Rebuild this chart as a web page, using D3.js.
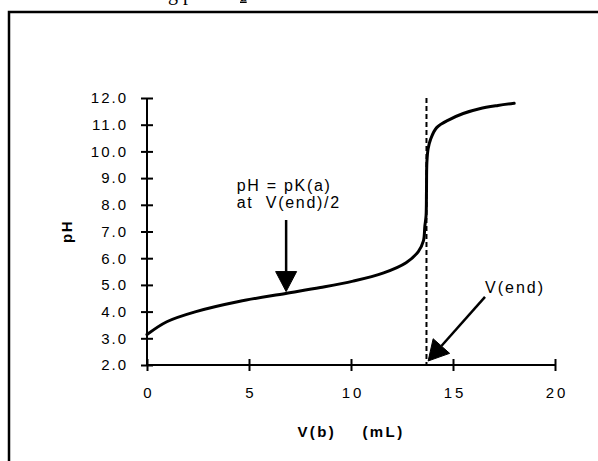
<!DOCTYPE html>
<html><head><meta charset="utf-8">
<script src="https://cdn.jsdelivr.net/npm/d3@7"></script>
<style>
html,body{margin:0;padding:0;background:#fff;}
svg{display:block;}
text{font-family:"Liberation Sans",Arial,Helvetica,sans-serif;fill:#000;}
</style></head>
<body>
<svg id="chart" width="598" height="461"></svg>
<script>
// ---- data ----
const volumeB = [0, 0.97, 2.4, 4.5, 6.8, 8.5, 10.1, 11.6, 12.7, 13.3, 13.55, 13.62, 13.68, 13.7, 13.72, 13.78, 13.9, 14.2, 14.85, 15.5, 16.3, 17.2, 18.0];
const pHValues = [3.14, 3.62, 4.0, 4.38, 4.68, 4.9, 5.14, 5.45, 5.83, 6.25, 6.65, 7.2, 7.6, 8.5, 9.6, 10.1, 10.45, 10.89, 11.2, 11.42, 11.6, 11.72, 11.8];
const xTicks = [0, 5, 10, 15, 20];
const xTickLabels = ["0", "5", "10", "15", "20"];
const yTicks = [2, 3, 4, 5, 6, 7, 8, 9, 10, 11, 12];
const yTickLabels = ["2.0","3.0","4.0","5.0","6.0","7.0","8.0","9.0","10.0","11.0","12.0"];
const vEnd = 13.7;
const halfArrow = {from: [6.82, 7.43], to: [6.82, 4.75]};
const endArrow = {from: [16.57, 4.55], to: [13.78, 2.15]};
const halfLabel = ["pH = pK(a)", "at  V(end)/2"];
const endLabel = "V(end)";
const xTitle = "V(b)    (mL)";
const yTitle = "pH";

const svg = d3.select("#chart");
const x = d3.scaleLinear().domain([0, 20]).range([147, 555]);
const y = d3.scaleLinear().domain([2, 12]).range([365, 98]);

// page fragment at top (cut-off document text)
svg.append("text").attr("x", 168).attr("y", -0.5)
  .style("font-family", "'Liberation Serif','Times New Roman',serif").style("font-size", "20px")
  .text("g p");
svg.append("text").attr("x", 240).attr("y", 0.5)
  .style("font-family", "'Liberation Serif','Times New Roman',serif").style("font-size", "15px")
  .style("text-decoration", "underline").text("a");

// frame
svg.append("path").attr("d", "M9,461V12H598").attr("fill", "none")
  .attr("stroke", "#000").attr("stroke-width", 2.5);

// y axis
const yAxis = svg.append("g").attr("transform", `translate(${x(0)},0)`)
  .call(d3.axisLeft(y).tickValues(yTicks).tickSize(6).tickPadding(13)
    .tickFormat((d, i) => yTickLabels[i]));
yAxis.select(".domain").attr("stroke-width", 2).attr("d", `M0,${y(2)}V${y(12)}`);
yAxis.selectAll(".tick line").attr("x1", 6).attr("stroke-width", 2);
yAxis.selectAll(".tick text").style("font-size", "15px").style("letter-spacing", "2px")
  .style("font-family", "'Liberation Sans',Arial,sans-serif");

// x axis
const xAxis = svg.append("g").attr("transform", `translate(0,${y(2)})`)
  .call(d3.axisBottom(x).tickValues(xTicks).tickSize(6).tickPadding(16)
    .tickFormat((d, i) => xTickLabels[i]));
xAxis.select(".domain").attr("stroke-width", 2).attr("d", `M${x(0)},0H${x(20)}`);
xAxis.selectAll(".tick line").attr("y1", -6).attr("stroke-width", 2);
xAxis.selectAll(".tick text").style("font-size", "15px").style("letter-spacing", "3px")
  .attr("dx", "1.5px")
  .style("font-family", "'Liberation Sans',Arial,sans-serif");

// endpoint dashed line
svg.append("line").attr("x1", x(vEnd)).attr("x2", x(vEnd)).attr("y1", y(12)).attr("y2", y(2))
  .attr("stroke", "#000").attr("stroke-width", 2).attr("stroke-dasharray", "5,3");

// titration curve
const pts = volumeB.map((v, i) => [v, pHValues[i]]);
svg.append("path").datum(pts)
  .attr("d", d3.line().x(d => x(d[0])).y(d => y(d[1])).curve(d3.curveCatmullRom.alpha(0.5)))
  .attr("fill", "none").attr("stroke", "#000").attr("stroke-width", 3)
  .attr("stroke-linejoin", "round").attr("stroke-linecap", "round");

// arrows
function arrow(a, len, hw) {
  const x1 = x(a.from[0]), y1 = y(a.from[1]), x2 = x(a.to[0]), y2 = y(a.to[1]);
  const dx = x2 - x1, dy = y2 - y1, L = Math.hypot(dx, dy), ux = dx / L, uy = dy / L;
  const bx = x2 - ux * len, by = y2 - uy * len;
  svg.append("line").attr("x1", x1).attr("y1", y1).attr("x2", bx).attr("y2", by)
    .attr("stroke", "#000").attr("stroke-width", 2.5);
  svg.append("path").attr("d",
    `M${x2},${y2}L${bx - uy * hw},${by + ux * hw}L${bx + uy * hw},${by - ux * hw}Z`)
    .attr("fill", "#000").attr("stroke", "#000").attr("stroke-width", 1);
}
arrow(halfArrow, 20, 10.5);
arrow(endArrow, 20, 11);

// annotation text
svg.append("text").attr("x", x(4.4)).attr("y", y(8.52)).style("font-size", "16px")
  .style("letter-spacing", "1.7px").style("white-space", "pre").text(halfLabel[0]);
svg.append("text").attr("x", x(4.4)).attr("y", y(7.88)).style("font-size", "16px")
  .style("letter-spacing", "1.7px").style("white-space", "pre").text(halfLabel[1]);
svg.append("text").attr("x", x(16.57)).attr("y", y(4.7)).style("font-size", "16px")
  .style("letter-spacing", "2px").text(endLabel);

// axis titles
svg.append("text").attr("x", x(10)).attr("y", 437).attr("text-anchor", "middle")
  .style("font-size", "15px").style("font-weight", "bold").style("letter-spacing", "2.4px")
  .style("white-space", "pre").text(xTitle);
svg.append("text").attr("transform", `translate(72,${(y(2) + y(12)) / 2}) rotate(-90)`)
  .attr("text-anchor", "middle").style("font-size", "15px").style("font-weight", "bold")
  .style("letter-spacing", "1.5px").text(yTitle);
</script>
</body></html>
